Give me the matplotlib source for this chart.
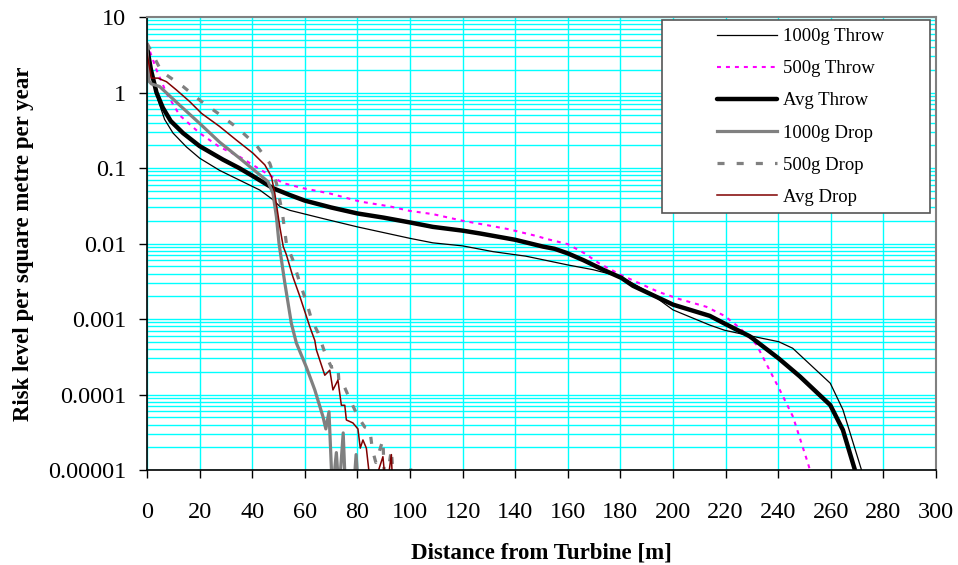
import matplotlib
matplotlib.use("Agg")
import matplotlib.pyplot as plt
import matplotlib.ticker as mticker
from matplotlib.patches import Rectangle

plt.rcParams['font.family'] = ['Liberation Serif', 'DejaVu Serif']

# --- data (distance m, risk per m2 per year) ---
x_1000_throw = [0, 2.3, 4.2, 6.7, 9.9, 15, 20, 27.6, 35.2, 42.9, 47.9, 50.5, 54.3, 66.9, 80,
                100, 108.7, 120, 131.6, 140, 144, 160, 169.6, 180.4, 191.3, 200, 214, 219.6,
                229.2, 240.2, 245.5, 259.8, 264.6, 271.6, 272.5]
y_1000_throw = [4.0, 1.6, 0.79, 0.44, 0.29, 0.19, 0.135, 0.093, 0.069, 0.051, 0.038, 0.031,
                0.0275, 0.0214, 0.0166, 0.0117, 0.0102, 0.0093, 0.0078, 0.0071, 0.0068, 0.0052,
                0.0045, 0.0036, 0.0022, 0.00132, 0.00083, 0.00071, 0.0006, 0.0005, 0.00041,
                0.000141, 0.000063, 0.0000102, 0.000008]

x_500_throw = [0, 3.6, 7.4, 12.4, 20, 27.6, 35.2, 45.4, 51.8, 59.3, 69.5, 80.9, 92.3, 100,
               108.7, 120, 129.7, 137.3, 148, 151.9, 160, 166.4, 172.1, 180.4, 194.3, 201.9,
               212.7, 219.6, 225.4, 231.7, 240.6, 245.6, 251.3, 252.5]
y_500_throw = [4.5, 2.0, 0.98, 0.5, 0.29, 0.19, 0.141, 0.085, 0.063, 0.054, 0.046, 0.036,
               0.031, 0.027, 0.0245, 0.02, 0.0174, 0.0155, 0.0126, 0.0115, 0.0098, 0.0074,
               0.0054, 0.0038, 0.0023, 0.00186, 0.00145, 0.0011, 0.00076, 0.00046, 0.000115,
               0.000051, 0.0000123, 0.0000089]

x_avg_throw = [0, 1.5, 3.6, 6, 9, 13.7, 20, 28.9, 35, 40.3, 47.9, 54.2, 60, 70, 80, 90, 100,
               108.7, 120, 126.5, 140, 150.6, 155, 160, 166, 173.4, 180.4, 184.8, 200, 214,
               219.6, 229.2, 240.2, 248.2, 259.8, 264.6, 269.1, 270]
y_avg_throw = [3.98, 2.0, 1.0, 0.63, 0.42, 0.29, 0.195, 0.129, 0.1, 0.078, 0.054, 0.044,
               0.037, 0.030, 0.025, 0.022, 0.019, 0.0166, 0.0148, 0.0136, 0.0112, 0.0091,
               0.0085, 0.0074, 0.0060, 0.0045, 0.0035, 0.00275, 0.00155, 0.0011, 0.00087,
               0.00059, 0.0003, 0.000174, 0.0000724, 0.0000339, 0.0000102, 0.0000079]

x_1000_drop = [0, 0.8, 1.7, 4.8, 12.4, 20, 27.6, 35.2, 42.2, 46, 47.9, 49.2, 50.2, 52.4, 54.9,
               56.8, 60.6, 63.8, 66.9, 68, 69.2, 70.5, 72, 73, 74.6, 75.5, 78.5, 79.5, 80.5]
y_1000_drop = [3.8, 1.4, 1.3, 1.2, 0.68, 0.39, 0.22, 0.135, 0.085, 0.066, 0.046, 0.0226, 0.01,
               0.003, 0.00087, 0.00048, 0.00023, 0.000115, 0.000051, 0.000035, 0.000059,
               0.000005, 0.0000170, 0.000005, 0.000031, 0.000005, 0.000005, 0.000016, 0.000005]

x_500_drop = [0, 5.5, 13.7, 20.7, 27, 34.6, 41.6, 46.7, 49.2, 51.5, 53, 55.5, 58.1, 60.6, 62.5,
              65.1, 67.7, 70.1, 72.6, 73.0, 74.5, 77.1, 80.2, 82.8, 84.7, 85.7, 87, 89.7, 90.5,
              92.9, 94, 99, 100.2, 101]
y_500_drop = [4.5, 1.9, 1.2, 0.76, 0.53, 0.335, 0.2, 0.115, 0.063, 0.025, 0.01, 0.006, 0.003,
              0.0017, 0.001, 0.00065, 0.00035, 0.00023, 0.00024, 0.00014, 0.00014, 0.000087,
              0.000051, 0.000037, 0.000035, 0.0000186, 0.0000126, 0.000025, 0.000005, 0.0000186,
              0.000005, 0.000005, 0.000011, 0.000005]

x_avg_drop = [0, 1.7, 4.2, 7.4, 11.2, 16.2, 20.7, 27.6, 34, 40.3, 44.8, 47.3, 48.6, 50.5, 51.8,
              53, 55.5, 58.1, 61.9, 63.8, 64.4, 67.6, 69.5, 70.7, 72.6, 73.9, 75.2, 75.8, 78.3,
              80.2, 81.1, 82.1, 83.4, 85.3, 89.7, 91, 92.9, 93.5]
y_avg_drop = [3.3, 1.55, 1.55, 1.39, 1.08, 0.76, 0.53, 0.355, 0.234, 0.157, 0.11, 0.077, 0.046,
              0.0166, 0.0091, 0.0071, 0.0036, 0.002, 0.00079, 0.00052, 0.00039, 0.00018, 0.00021,
              0.000115, 0.000155, 0.000072, 0.000072, 0.000046, 0.000042, 0.000035, 0.0000195,
              0.000025, 0.0000195, 0.000005, 0.000015, 0.000005, 0.000016, 0.000005]

y_ticks = [1e-5, 1e-4, 1e-3, 1e-2, 1e-1, 1, 10]
y_tick_labels = ['0.00001', '0.0001', '0.001', '0.01', '0.1', '1', '10']

fig = plt.figure(figsize=(9.58, 5.65), dpi=100)
ax = fig.add_axes([147 / 958, 95 / 565, 789 / 958, 453 / 565])

ax.plot(x_1000_throw, y_1000_throw, color='black', lw=0.9, label='1000g Throw')
ax.plot(x_500_throw, y_500_throw, color='#FF00FF', lw=1.5, ls=(0, (1.9, 2.4)),
        label='500g Throw')
ax.plot(x_avg_throw, y_avg_throw, color='black', lw=3.2, solid_capstyle='round',
        label='Avg Throw')
ax.plot(x_1000_drop, y_1000_drop, color='#808080', lw=2.3, label='1000g Drop')
ax.plot(x_500_drop, y_500_drop, color='#808080', lw=2.3, ls=(0, (2.2, 3.8)),
        dash_capstyle='butt', label='500g Drop')
ax.plot(x_avg_drop, y_avg_drop, color='#800000', lw=1.1, label='Avg Drop')

ax.set_yscale('log')
ax.set_ylim(1e-5, 10)
ax.set_xlim(0, 300)
ax.set_xticks(range(0, 301, 20))
ax.set_yticks(y_ticks)
ax.set_yticklabels(y_tick_labels)
ax.yaxis.set_minor_locator(mticker.LogLocator(base=10, subs=range(2, 10), numticks=20))
ax.yaxis.set_minor_formatter(mticker.NullFormatter())

ax.grid(True, which='major', color='#00FFFF', lw=1.0)
ax.grid(True, which='minor', axis='y', color='#00FFFF', lw=1.0)
ax.set_axisbelow(True)

ax.tick_params(axis='both', which='major', direction='out', length=6, width=1.0,
               labelsize=17.5, color='black')
ax.tick_params(axis='x', pad=17)
ax.tick_params(axis='y', pad=9)
ax.tick_params(axis='y', which='minor', length=0)

for side in ['left', 'bottom']:
    ax.spines[side].set_color('black')
    ax.spines[side].set_linewidth(1.2)
for side in ['top', 'right']:
    ax.spines[side].set_color('#808080')
    ax.spines[side].set_linewidth(1.5)

ax.set_xlabel('Distance from Turbine [m]', fontsize=16.5, fontweight='bold', labelpad=14)
ax.set_ylabel('Risk level per square metre per year', fontsize=16.5, fontweight='bold',
              labelpad=10)

# legend frame drawn separately to mimic the wide Excel box
frame = Rectangle((662 / 958, 1 - 213 / 565), 268 / 958, 193 / 565, transform=fig.transFigure,
                  facecolor='white', edgecolor='#555555', lw=1.2, zorder=5, clip_on=False)
ax.add_patch(frame)
leg = ax.legend(loc='upper left', bbox_to_anchor=(717 / 958, 1 - 28 / 565),
                bbox_transform=fig.transFigure, frameon=False, fontsize=13.5,
                handlelength=3.2, handletextpad=0.3, labelspacing=0.8,
                borderpad=0, borderaxespad=0)
leg.set_zorder(6)

fig.savefig('out.png', dpi=100)
